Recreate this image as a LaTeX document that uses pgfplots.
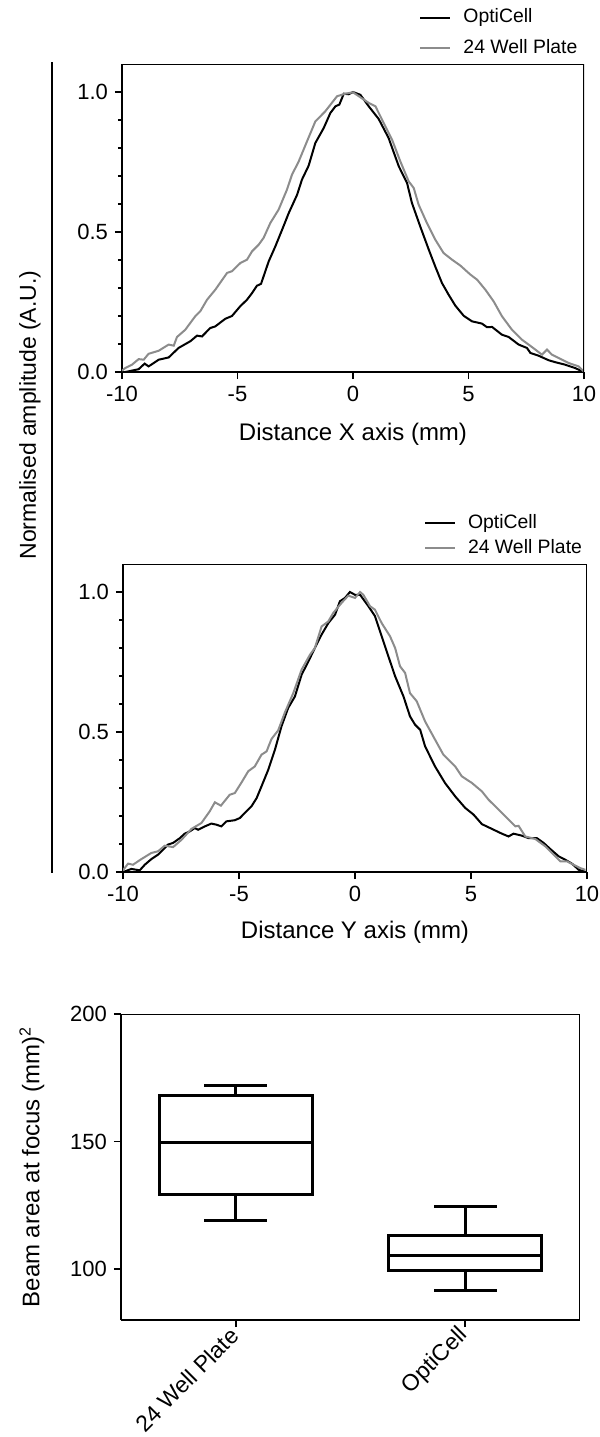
\documentclass[border=0pt]{standalone}
\usepackage{pgfplots}
\pgfplotsset{compat=1.18}
\usepackage{fontspec}
\setmainfont{Liberation Sans}
\definecolor{wellgray}{gray}{0.55}

\pgfplotsset{
  profile/.style={
    scale only axis, width=231pt, height=154pt,
    xmin=-10, xmax=10, ymin=0, ymax=1.1,
    xtick={-10,-5,0,5,10}, xticklabels={-10,-5,0,5,10},
    ytick={0,0.5,1}, yticklabels={0.0,0.5,1.0},
    minor ytick={0.1,0.2,0.3,0.4,0.6,0.7,0.8,0.9},
    axis lines=left, axis line style={-, line width=1pt},
    tick align=outside, major tick length=3.5pt, minor tick length=2pt,
    every tick/.style={black, line width=0.8pt},
    tick label style={font=\fontsize{11}{12}\selectfont},
    legend cell align=left,
    legend image code/.code={\draw[#1] (0pt,0pt) -- (15pt,0pt);},
  },
}

\begin{document}
\begin{tikzpicture}
\useasboundingbox (0,0) rectangle (300pt,-718.5pt);

% ---- X profile
\begin{axis}[profile, at={(61pt,-186pt)}, anchor=south west,
    legend style={draw=none, fill=none, at={(0.630,1.201)}, anchor=north west,
      font=\fontsize{9.7}{10}\selectfont, row sep=4.4pt, column sep=5pt,
      nodes={text height=7pt, text depth=2pt, inner sep=1pt}},
  ]
  \addplot[black, line width=1pt] coordinates {
    (-10,0.0)(-9.86,0.00)(-9.28,0.01)(-9.02,0.03)(-8.85,0.02)(-8.41,0.044)(-7.98,0.052)(-7.55,0.086)(-7.04,0.11)(-6.75,0.13)(-6.54,0.127)(-6.18,0.157)(-5.96,0.163)(-5.53,0.19)(-5.24,0.20)(-4.88,0.235)(-4.59,0.258)(-4.37,0.282)(-4.16,0.308)(-3.98,0.315)(-3.65,0.395)(-3.36,0.449)(-3.07,0.508)(-2.78,0.568)(-2.42,0.633)(-2.21,0.687)(-1.92,0.737)(-1.63,0.818)(-1.27,0.871)(-0.98,0.925)(-0.76,0.949)(-0.59,0.955)(-0.40,0.994)(-0.19,0.992)(0,1.0)(0.32,0.99)(0.68,0.949)(1.11,0.904)(1.54,0.836)(1.98,0.735)(2.34,0.675)(2.55,0.604)(2.91,0.52)(3.28,0.437)(3.56,0.377)(3.85,0.318)(4.14,0.276)(4.43,0.237)(4.79,0.201)(5.15,0.181)(5.58,0.173)(5.80,0.16)(6.02,0.161)(6.45,0.133)(6.74,0.125)(7.17,0.098)(7.53,0.086)(7.68,0.068)(8.04,0.058)(8.47,0.042)(8.76,0.035)(9.19,0.026)(9.62,0.014)(9.94,0.002)};
  \addlegendentry{OptiCell}
  \addplot[wellgray, line width=1pt] coordinates {
    (-10,0.005)(-9.86,0.014)(-9.57,0.026)(-9.28,0.046)(-9.06,0.044)(-8.85,0.065)(-8.41,0.076)(-7.98,0.098)(-7.76,0.094)(-7.62,0.125)(-7.26,0.151)(-6.83,0.199)(-6.61,0.217)(-6.32,0.258)(-5.96,0.294)(-5.45,0.354)(-5.24,0.36)(-4.88,0.389)(-4.59,0.401)(-4.37,0.431)(-4.08,0.455)(-3.87,0.479)(-3.58,0.532)(-3.22,0.58)(-2.86,0.651)(-2.64,0.705)(-2.35,0.752)(-1.99,0.824)(-1.63,0.895)(-1.20,0.931)(-0.69,0.985)(-0.33,0.994)(0,0.999)(0.25,0.985)(0.68,0.961)(0.97,0.949)(1.26,0.901)(1.69,0.83)(2.05,0.752)(2.41,0.681)(2.63,0.657)(2.84,0.598)(3.20,0.532)(3.56,0.473)(3.92,0.425)(4.29,0.401)(4.65,0.38)(5.08,0.348)(5.37,0.33)(5.73,0.294)(6.09,0.252)(6.45,0.199)(6.88,0.151)(7.32,0.115)(7.75,0.089)(8.18,0.062)(8.40,0.08)(8.61,0.062)(8.90,0.05)(9.34,0.032)(9.77,0.02)(9.99,0.002)};
  \addlegendentry{24 Well Plate}
  \draw[line width=0.6pt] (rel axis cs:0,1) -- (rel axis cs:1,1) -- (rel axis cs:1,0);
\end{axis}
\node[font=\fontsize{12}{14}\selectfont] at (176.5pt,-217pt) {Distance X axis (mm)};

% ---- Y profile
\begin{axis}[profile, at={(61.5pt,-436pt)}, anchor=south west, width=232pt,
    legend style={draw=none, fill=none, at={(0.635,1.182)}, anchor=north west,
      font=\fontsize{9.7}{10}\selectfont, row sep=1.4pt, column sep=5pt,
      nodes={text height=7pt, text depth=2pt, inner sep=1pt}},
  ]
  \addplot[black, line width=1pt] coordinates {
    (-10,0.0)(-9.93,0.002)(-9.64,0.011)(-9.28,0.006)(-9.06,0.026)(-8.78,0.046)(-8.49,0.062)(-8.27,0.08)(-8.06,0.098)(-7.84,0.104)(-7.55,0.121)(-7.34,0.137)(-7.12,0.145)(-6.91,0.157)(-6.76,0.151)(-6.47,0.163)(-6.19,0.173)(-5.97,0.169)(-5.76,0.163)(-5.54,0.181)(-5.18,0.185)(-4.96,0.193)(-4.68,0.217)(-4.46,0.235)(-4.24,0.264)(-4.03,0.306)(-3.74,0.365)(-3.45,0.437)(-3.17,0.52)(-2.88,0.586)(-2.59,0.627)(-2.30,0.705)(-2.01,0.752)(-1.73,0.8)(-1.44,0.848)(-1.15,0.889)(-0.86,0.919)(-0.65,0.967)(-0.43,0.979)(-0.22,1.0)(0,0.99)(0.22,0.99)(0.58,0.949)(0.86,0.914)(1.15,0.842)(1.44,0.77)(1.73,0.699)(2.09,0.627)(2.37,0.556)(2.59,0.526)(2.81,0.508)(3.02,0.449)(3.45,0.377)(3.88,0.318)(4.32,0.27)(4.75,0.229)(5.11,0.205)(5.47,0.171)(5.90,0.154)(6.33,0.137)(6.62,0.127)(6.83,0.137)(7.19,0.13)(7.48,0.121)(7.84,0.121)(8.13,0.104)(8.42,0.082)(8.78,0.056)(9.06,0.044)(9.35,0.03)(9.64,0.008)(9.96,0.0)};
  \addlegendentry{OptiCell}
  \addplot[wellgray, line width=1pt] coordinates {
    (-10,0.005)(-9.93,0.014)(-9.78,0.03)(-9.57,0.026)(-9.21,0.046)(-8.78,0.068)(-8.49,0.074)(-8.2,0.094)(-7.84,0.089)(-7.48,0.115)(-7.05,0.154)(-6.62,0.175)(-6.26,0.217)(-6.04,0.249)(-5.78,0.237)(-5.40,0.276)(-5.18,0.282)(-4.89,0.32)(-4.60,0.36)(-4.32,0.377)(-4.03,0.419)(-3.81,0.431)(-3.60,0.475)(-3.31,0.506)(-3.02,0.57)(-2.66,0.639)(-2.30,0.723)(-1.94,0.776)(-1.73,0.8)(-1.44,0.877)(-1.15,0.895)(-0.94,0.925)(-0.58,0.961)(-0.29,0.987)(0,0.979)(0.22,1.0)(0.36,0.99)(0.65,0.949)(0.86,0.937)(1.15,0.889)(1.51,0.842)(1.73,0.8)(1.94,0.735)(2.16,0.711)(2.37,0.639)(2.66,0.61)(3.02,0.538)(3.45,0.473)(3.81,0.419)(4.32,0.377)(4.60,0.342)(5.04,0.318)(5.47,0.288)(5.76,0.258)(6.19,0.223)(6.55,0.193)(6.91,0.163)(7.05,0.165)(7.34,0.127)(7.77,0.118)(8.20,0.092)(8.56,0.062)(8.85,0.038)(9.14,0.038)(9.42,0.026)(9.71,0.014)(9.93,0.008)};
  \addlegendentry{24 Well Plate}
  \draw[line width=0.6pt] (rel axis cs:0,1) -- (rel axis cs:1,1) -- (rel axis cs:1,0);
\end{axis}
\node[font=\fontsize{12}{14}\selectfont] at (177.5pt,-466pt) {Distance Y axis (mm)};

% shared y label and bracket line
\draw[line width=1pt] (25.75pt,-31pt) -- (25.75pt,-436.5pt);
\node[rotate=90, font=\fontsize{11.5}{14}\selectfont] at (15pt,-207.5pt) {Normalised amplitude (A.U.)};

% ---- beam area box plot
\begin{axis}[at={(60.5pt,-660pt)}, anchor=south west,
    scale only axis, width=229.5pt, height=153pt,
    xmin=0.5, xmax=2.5, ymin=80, ymax=200,
    xtick={1,2}, xticklabels={24 Well Plate, OptiCell},
    ytick={100,150,200}, yticklabels={100,150,200},
    axis lines=left, axis line style={-, line width=1pt},
    tick align=outside, major tick length=3.5pt,
    every tick/.style={black, line width=0.8pt},
    tick label style={font=\fontsize{11}{12}\selectfont},
    xticklabel style={xshift=2pt, rotate=45, anchor=east,
      font=\fontsize{11.5}{12}\selectfont},
    ylabel={Beam area at focus (mm)\textsuperscript{2}},
    every axis y label/.style={at={(axis description cs:-0.194,0.5)}, rotate=90,
      anchor=center, font=\fontsize{12}{14}\selectfont},
    unbounded coords=jump,
  ]
  % 24 Well Plate: box, median, whiskers
  \addplot[black, line width=1.5pt, line cap=rect] coordinates {
    (0.667,129.3)(1.333,129.3)(1.333,168.2)(0.667,168.2)(0.667,129.3)
    (nan,nan)(0.667,149.5)(1.333,149.5)
    (nan,nan)(1,168.2)(1,171.8)(nan,nan)(0.87,171.8)(1.13,171.8)
    (nan,nan)(1,129.3)(1,119.2)(nan,nan)(0.87,119.2)(1.13,119.2)};
  % OptiCell
  \addplot[black, line width=1.5pt, line cap=rect] coordinates {
    (1.667,99.4)(2.333,99.4)(2.333,113)(1.667,113)(1.667,99.4)
    (nan,nan)(1.667,105.4)(2.333,105.4)
    (nan,nan)(2,113)(2,124.4)(nan,nan)(1.87,124.4)(2.13,124.4)
    (nan,nan)(2,99.4)(2,91.4)(nan,nan)(1.87,91.4)(2.13,91.4)};
  \draw[line width=0.6pt] (rel axis cs:0,1) -- (rel axis cs:1,1) -- (rel axis cs:1,0);
\end{axis}
\end{tikzpicture}
\end{document}
